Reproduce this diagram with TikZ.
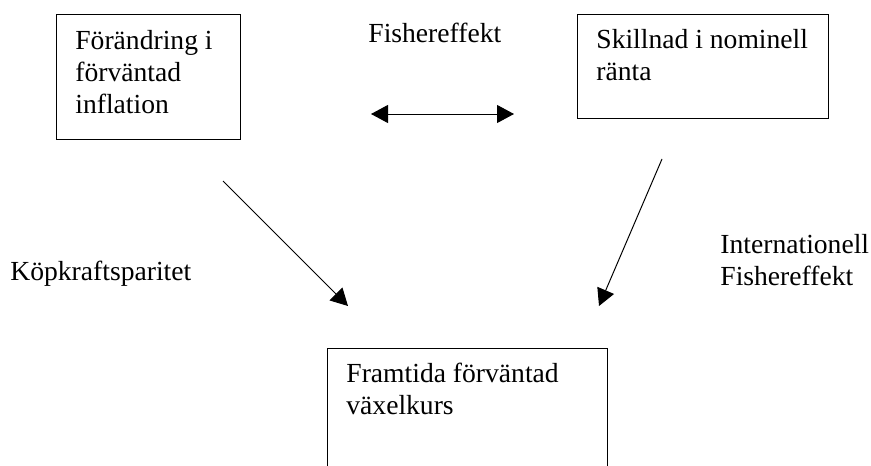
\documentclass[tikz,border=0pt]{standalone}
\usepackage{fontspec}
\setmainfont{Liberation Serif}
\usepackage{tikz}
\usetikzlibrary{arrows.meta,positioning}

\begin{document}
\begin{tikzpicture}[x=0.5pt,y=-0.5pt,
    box/.style={draw,line width=0.65pt,anchor=north west,inner sep=0pt},
    boxtext/.style={anchor=north west,align=left,inner sep=0pt},
    lbl/.style={anchor=base west,inner sep=0pt},
    tip/.style={line width=0.5pt,-{Triangle[length=8.5pt,width=9pt]}},
    font=\fontsize{13.8}{16}\selectfont]
    \useasboundingbox (0,0) rectangle (871,465);
    \clip (0,0) rectangle (871,465);
    \node[box,minimum width=92pt,minimum height=62.5pt] (infl) at (56,14) {};
    \node[box,minimum width=125.5pt,minimum height=52pt] (rate) at (577,14) {};
    \node[box,minimum width=140pt,minimum height=70pt] (fx) at (327,348) {};
    \node[boxtext] (infltext) at (75,30) {Förändring i\\förväntad\\inflation};
    \node[boxtext] (ratetext) at (596,29) {Skillnad i nominell\\ränta};
    \node[boxtext] (fxtext) at (346,363) {Framtida förväntad\\växelkurs};
    \node[lbl] (fisher) at (368,43) {Fishereffekt};
    \node[lbl] (ppp) at (10,280) {Köpkraftsparitet};
    \node[lbl,align=left] (ife) at (720,285) {Internationell\\Fishereffekt};
    \coordinate (fisherL) at (371,114);
    \coordinate (fisherR) at (514,114);
    \coordinate (pppS) at (223,181);
    \coordinate (pppE) at (348,306);
    \coordinate (ifeS) at (662,159);
    \coordinate (ifeE) at (599,306);
    \path[tip,{Triangle[length=8.5pt,width=9pt]}-{Triangle[length=8.5pt,width=9pt]}]
    (fisherL) edge (fisherR);
    \path[tip]
    (pppS) edge (pppE)
    (ifeS) edge (ifeE);
\end{tikzpicture}
\end{document}
